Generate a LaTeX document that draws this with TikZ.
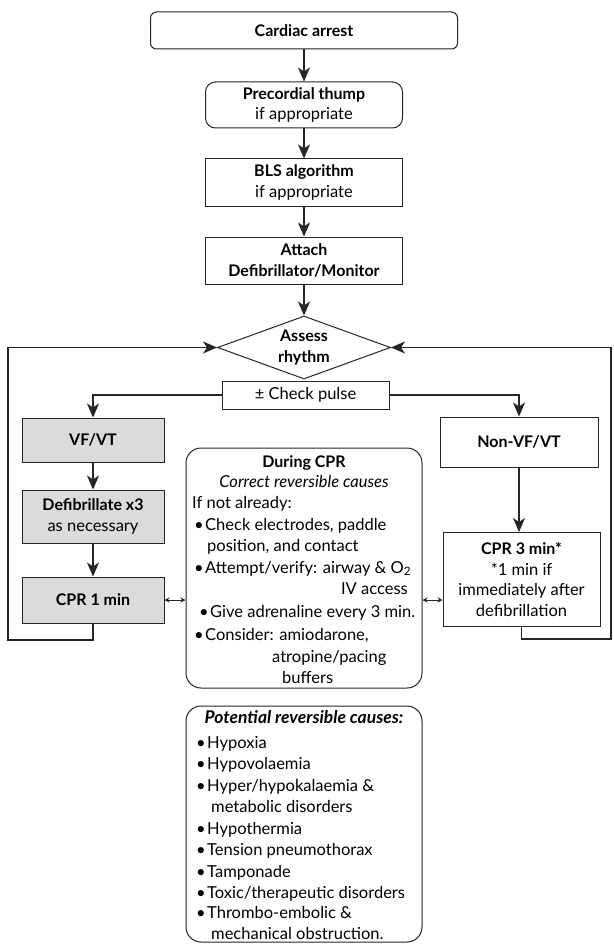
\documentclass[tikz,border=0pt]{standalone}
\usepackage{fontspec}
\setmainfont{Lato}
\usetikzlibrary{arrows.meta,shapes.geometric}
\newcommand\fs{\fontsize{16.5}{20.5}\selectfont}
\newcommand\bb[1]{{\fontsize{16}{20.5}\selectfont\bfseries #1}}
\newcommand\bl{\makebox[11pt][l]{\textbullet}}
\begin{document}
\begin{tikzpicture}[x=1pt,y=-1pt,
  box/.style={draw=black!85, line width=1pt, fill=white, inner sep=0pt, align=center, font=\fs},
  grey/.style={box, fill=black!14},
  arr/.style={draw=black!85, line width=1.4pt, -{Stealth[length=14pt,width=12pt,inset=4pt]}},
  dbl/.style={draw=black!85, line width=1pt, {Stealth[length=5pt,width=5pt]}-{Stealth[length=5pt,width=5pt]}},
  txt/.style={inner sep=0pt, font=\fs, anchor=base west},
  ctxt/.style={inner sep=0pt, font=\fs, anchor=base},
]
\useasboundingbox (0,0) rectangle (613,944);
\fill[white] (0,0) rectangle (613,944);

\node[box, rounded corners=6pt, minimum width=307pt, minimum height=37pt] (ca) at (304,30.5) {\bb{Cardiac arrest}};
\node[box, rounded corners=10pt, minimum width=197pt, minimum height=46pt] (pt) at (304,105) {\bb{Precordial thump}\\if appropriate};
\node[box, minimum width=197pt, minimum height=47pt] (bls) at (304,182.5) {\bb{BLS algorithm}\\if appropriate};
\node[box, minimum width=197pt, minimum height=47pt] (att) at (304,260.5) {\bb{Attach}\\\bb{Defibrillator/Monitor}};
\node[box, shape=diamond, aspect=2.75, minimum width=173pt, minimum height=63pt] (ar) at (304,347.5) {\bb{Assess}\\\bb{rhythm}};
\node[box, minimum width=167pt, minimum height=28pt] (cp) at (305.5,395) {± Check pulse};

\node[grey, minimum width=142pt, minimum height=44pt] (vf) at (93,440) {\bb{VF/VT}};
\node[grey, minimum width=142pt, minimum height=53pt] (df) at (93,516.5) {\bb{Defibrillate x3}\\as necessary};
\node[grey, minimum width=142pt, minimum height=46pt] (c1) at (93,600) {\bb{CPR 1 min}};

\node[box, minimum width=158pt, minimum height=50pt] (nv) at (519,442) {\bb{Non-VF/VT}};
\node[box, minimum width=157pt, minimum height=94pt] (c3) at (521.5,579.5) {\bb{CPR 3 min*}\\{}*1 min if\\immediately after\\defibrillation};

\node[box, rounded corners=15pt, minimum width=236pt, minimum height=240pt] (dc) at (304,568) {};
\node[box, rounded corners=15pt, minimum width=236pt, minimum height=236pt] (pr) at (304,824) {};

% During CPR text
\node[ctxt] (d1) at (304,467) {\bb{During CPR}};
\node[ctxt] (d2) at (304,487) {\itshape Correct reversible causes};
\node[txt] (d3) at (192,508) {If not already:};
\node[txt] (d4) at (194,530) {\bl Check electrodes, paddle};
\node[txt] (d5) at (207,551) {position, and contact};
\node[txt] (d6) at (194,573) {\bl Attempt/verify: airway \& O\textsubscript{2}};
\node[inner sep=0pt, font=\fs, anchor=base east] (d7) at (408,594) {IV access};
\node[txt] (d8) at (199,617) {\bl Give adrenaline every 3 min.};
\node[txt] (d9) at (194,640) {\bl Consider: amiodarone,};
\node[txt] (d10) at (272,662) {atropine/pacing};
\node[txt] (d11) at (282,683) {buffers};

% Potential reversible causes text
\node[ctxt] (p0) at (304,723) {\fontsize{17.5}{20}\selectfont\bfseries\itshape Potential reversible causes:};
\node[txt] (p1) at (196,748) {\bl Hypoxia};
\node[txt] (p2) at (196,769) {\bl Hypovolaemia};
\node[txt] (p3) at (196,791) {\bl Hyper/hypokalaemia \&};
\node[txt] (p4) at (211,812) {metabolic disorders};
\node[txt] (p5) at (196,834) {\bl Hypothermia};
\node[txt] (p6) at (196,855) {\bl Tension pneumothorax};
\node[txt] (p7) at (196,877) {\bl Tamponade};
\node[txt] (p8) at (196,898) {\bl Toxic/therapeutic disorders};
\node[txt] (p9) at (196,918) {\bl Thrombo-embolic \&};
\node[txt] (p10) at (211,939) {mechanical obstruction.};

\coordinate (L1) at (8,640);
\coordinate (R1) at (611,639);

\draw[arr] (ca) -- (pt);
\draw[arr] (pt) -- (bls);
\draw[arr] (bls) -- (att);
\draw[arr] (att) -- (ar);
\draw[arr] (cp.west) -| (vf.north);
\draw[arr] (cp.east) -| (nv.north);
\draw[arr] (vf) -- (df);
\draw[arr] (df) -- (c1);
\draw[arr] (nv.south) -- (nv.south |- c3.north);
\draw[arr] (c1.south) |- (L1) |- (ar.west);
\draw[arr] (c3.south) |- (R1) |- (ar.east);
\draw[dbl] (c1.east) -- (c1.east -| dc.west);
\draw[dbl] (dc.east |- c1.east) -- (c3.west |- c1.east);
\end{tikzpicture}
\end{document}
